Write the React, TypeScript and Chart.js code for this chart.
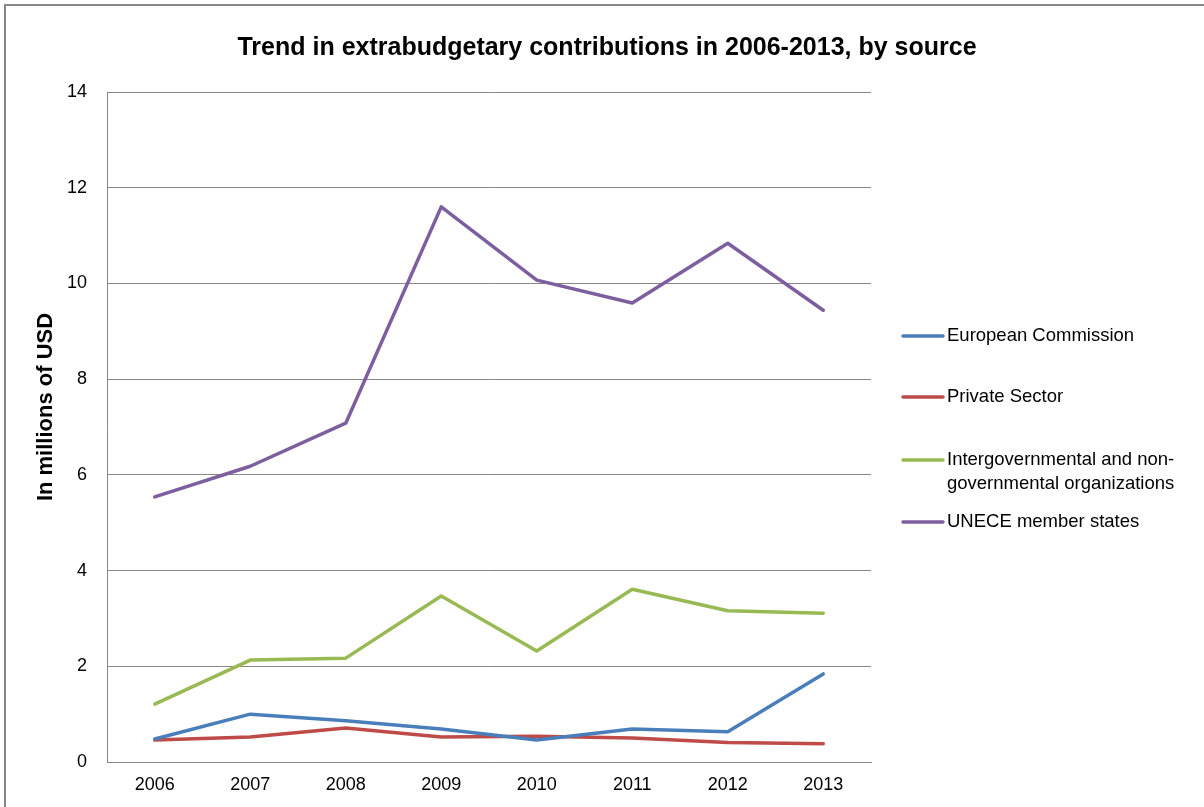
import { useEffect, useRef } from "react";
import { Chart, registerables } from "chart.js";

Chart.register(...registerables);

const years = ["2006", "2007", "2008", "2009", "2010", "2011", "2012", "2013"];
const europeanCommission = [0.48, 1.0, 0.86, 0.69, 0.46, 0.69, 0.63, 1.84];
const privateSector = [0.46, 0.52, 0.71, 0.52, 0.54, 0.5, 0.41, 0.38];
const interNonGov = [1.21, 2.13, 2.17, 3.47, 2.32, 3.61, 3.16, 3.11];
const uneceStates = [5.54, 6.18, 7.08, 11.6, 10.07, 9.59, 10.84, 9.44];
const seriesNames = [
  "European Commission",
  "Private Sector",
  "Intergovernmental and non-governmental organizations",
  "UNECE member states",
];
const seriesColors = ["#4A7EBB", "#BE4B48", "#98B954", "#7D5FA0"];
const yMin = 0;
const yMax = 14;
const yStep = 2;
const chartTitle = "Trend in extrabudgetary contributions in 2006-2013, by source";
const yAxisTitle = "In millions of USD";

const W = 1204;
const H = 807;
const PLOT_LEFT = 107;
const PLOT_RIGHT = 871;
const PLOT_TOP = 92;
const PLOT_BOTTOM = 762;
const GRAY = "#878787";
const FONT = "'Liberation Sans', Arial, sans-serif";
const LEGEND_Y = [336, 397, 460, 522];

function wrapText(ctx: CanvasRenderingContext2D, text: string, maxWidth: number): string[] {
  const tokens = text.match(/[^\s-]+-?|\s+/g) || [text];
  const lines: string[] = [];
  let cur = "";
  for (const t of tokens) {
    const trial = cur + t;
    if (cur && ctx.measureText(trial.trimEnd()).width > maxWidth) {
      lines.push(cur.trimEnd());
      cur = t.trim() ? t : "";
    } else {
      cur = trial;
    }
  }
  if (cur.trim()) lines.push(cur.trimEnd());
  return lines;
}

const decorPlugin = {
  id: "decor",
  afterDraw(chart: any) {
    const ctx: CanvasRenderingContext2D = chart.ctx;
    ctx.save();
    // outer frame (top and left edges visible)
    ctx.fillStyle = GRAY;
    ctx.fillRect(4, 4, W - 4, 2);
    ctx.fillRect(4, 4, 2, H - 4);

    // title
    ctx.fillStyle = "#000";
    ctx.textAlign = "center";
    ctx.textBaseline = "middle";
    ctx.font = `bold 25px ${FONT}`;
    ctx.fillText(chartTitle, 607, 48);

    // y axis title
    ctx.save();
    ctx.translate(46, 407);
    ctx.rotate(-Math.PI / 2);
    ctx.font = `bold 22px ${FONT}`;
    ctx.fillText(yAxisTitle, 0, 0);
    ctx.restore();

    // legend
    ctx.font = `18.5px ${FONT}`;
    ctx.textAlign = "left";
    ctx.textBaseline = "middle";
    chart.data.datasets.forEach((ds: any, i: number) => {
      const y = LEGEND_Y[i];
      ctx.strokeStyle = ds.borderColor;
      ctx.lineWidth = 3.5;
      ctx.lineCap = "round";
      ctx.beginPath();
      ctx.moveTo(903, y);
      ctx.lineTo(943, y);
      ctx.stroke();
      ctx.fillStyle = "#000";
      const lines = wrapText(ctx, ds.label, 245);
      lines.forEach((ln, k) => ctx.fillText(ln, 947, y + k * 24));
    });
    ctx.restore();
  },
};

export default function App() {
  const ref = useRef<HTMLCanvasElement | null>(null);
  useEffect(() => {
    if (!ref.current) return;
    const all = [europeanCommission, privateSector, interNonGov, uneceStates];
    const chart = new Chart(ref.current, {
      type: "line",
      data: {
        labels: years,
        datasets: all.map((vals, i) => ({
          label: seriesNames[i],
          data: vals,
          borderColor: seriesColors[i],
          backgroundColor: seriesColors[i],
          borderWidth: 3.5,
          pointRadius: 0,
          pointHoverRadius: 0,
          tension: 0,
          borderJoinStyle: "round" as const,
          borderCapStyle: "round" as const,
          fill: false,
        })),
      },
      options: {
        responsive: false,
        animation: false,
        events: [],
        layout: {
          padding: { left: 0, top: PLOT_TOP, right: W - PLOT_RIGHT, bottom: 0 },
        },
        plugins: {
          legend: { display: false },
          title: { display: false },
          tooltip: { enabled: false },
        },
        scales: {
          x: {
            type: "category",
            offset: true,
            grid: { display: false, drawTicks: false },
            border: { display: true, color: GRAY, width: 1 },
            ticks: {
              color: "#000",
              font: { family: FONT, size: 18 },
              padding: 12,
              maxRotation: 0,
              autoSkip: false,
            },
            afterFit: (s: any) => {
              s.height = H - PLOT_BOTTOM;
            },
          },
          y: {
            min: yMin,
            max: yMax,
            grid: { color: GRAY, lineWidth: 1, drawTicks: false },
            border: { display: true, color: GRAY, width: 1 },
            ticks: {
              stepSize: yStep,
              color: "#000",
              font: { family: FONT, size: 18 },
              padding: 20,
            },
            afterFit: (s: any) => {
              s.width = PLOT_LEFT;
            },
          },
        },
      },
      plugins: [decorPlugin],
    });
    return () => chart.destroy();
  }, []);
  return (
    <div style={{ position: "absolute", left: 0, top: 0, width: W, height: H, background: "#fff" }}>
      <canvas ref={ref} width={W} height={H} style={{ width: W, height: H, display: "block" }} />
    </div>
  );
}
